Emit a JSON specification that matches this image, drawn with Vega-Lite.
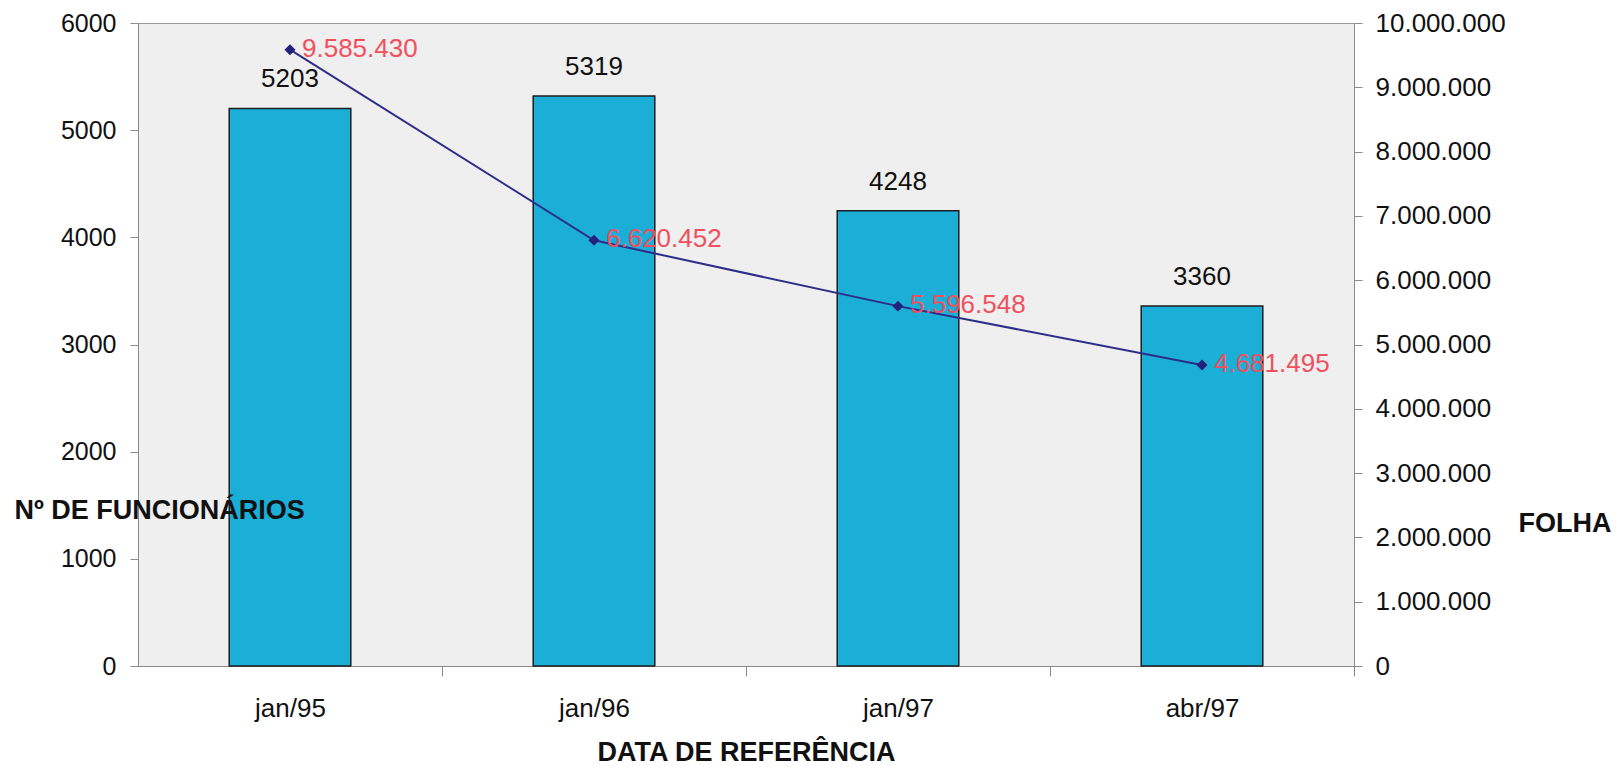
{
  "$schema": "https://vega.github.io/schema/vega-lite/v6.json",
  "autosize": {"type": "none"},
  "width": 1216,
  "height": 643,
  "padding": {"left": 138, "top": 23, "right": 268, "bottom": 101},
  "background": "white",
  "config": {
    "locale": {"number": {"decimal": ",", "thousands": ".", "grouping": [3], "currency": ["R$", ""]}},
    "font": "Liberation Sans",
    "view": {"fill": "#efefef", "stroke": "#9a9a9a", "strokeWidth": 1},
    "axis": {"grid": false, "domainColor": "#8a8a8a", "tickColor": "#8a8a8a", "labelColor": "#111", "titleColor": "#111", "labelFont": "Liberation Sans", "titleFont": "Liberation Sans"}
  },
  "data": {"values": [
    {"data": "jan/95", "func": 5203, "folha": 9585430},
    {"data": "jan/96", "func": 5319, "folha": 6620452},
    {"data": "jan/97", "func": 4248, "folha": 5596548},
    {"data": "abr/97", "func": 3360, "folha": 4681495}
  ]},
  "encoding": {
    "x": {
      "field": "data", "type": "nominal", "sort": null,
      "scale": {"paddingInner": 0.6, "paddingOuter": 0.3},
      "axis": {
        "labelAngle": 0, "tickOffset": 152, "labelOffset": -152, "tickSize": 10, "labelPadding": 19,
        "labelFontSize": 26, "title": "DATA DE REFERÊNCIA", "titleFontSize": 27,
        "titleFontWeight": "bold", "titleY": 86, "titleBaseline": "middle"
      }
    }
  },
  "layer": [
    {
      "encoding": {
        "y": {
          "field": "func", "type": "quantitative",
          "scale": {"domain": [0, 6000]},
          "axis": {
            "orient": "left", "values": [0, 1000, 2000, 3000, 4000, 5000, 6000],
            "tickSize": 8, "labelPadding": 14, "labelFontSize": 25, "format": "d",
            "title": "Nº DE FUNCIONÁRIOS", "titleAngle": 0, "titleFontSize": 27, "titleFontWeight": "bold",
            "titleX": -124, "titleY": 487, "titleAlign": "left", "titleBaseline": "middle", "zindex": 1
          }
        }
      },
      "layer": [
        {"mark": {"type": "bar", "color": "#1BAED6", "stroke": "#1d1d1d", "strokeWidth": 1.5}},
        {"mark": {"type": "text", "fontSize": 26, "color": "#111", "baseline": "middle", "dy": -29},
         "encoding": {"text": {"field": "func", "type": "quantitative", "format": "d"}}}
      ]
    },
    {
      "encoding": {
        "y": {
          "field": "folha", "type": "quantitative",
          "scale": {"domain": [0, 10000000]},
          "axis": {
            "orient": "right", "values": [0, 1000000, 2000000, 3000000, 4000000, 5000000, 6000000, 7000000, 8000000, 9000000, 10000000],
            "tickSize": 8, "labelPadding": 13, "labelFontSize": 26, "format": ",d",
            "title": "FOLHA", "titleAngle": 0, "titleFontSize": 27, "titleFontWeight": "bold",
            "titleX": 164, "titleY": 500, "titleAlign": "left", "titleBaseline": "middle"
          }
        }
      },
      "layer": [
        {"mark": {"type": "line", "color": "#2e2e8a", "strokeWidth": 2}},
        {"mark": {"type": "point", "shape": "diamond", "filled": true, "color": "#22227a", "size": 120, "opacity": 1}},
        {"mark": {"type": "text", "fontSize": 26, "color": "#F0505E", "align": "left", "baseline": "middle", "dx": 12, "dy": -1},
         "encoding": {"text": {"field": "folha", "type": "quantitative", "format": ",d"}}}
      ]
    }
  ],
  "resolve": {"scale": {"y": "independent"}}
}
